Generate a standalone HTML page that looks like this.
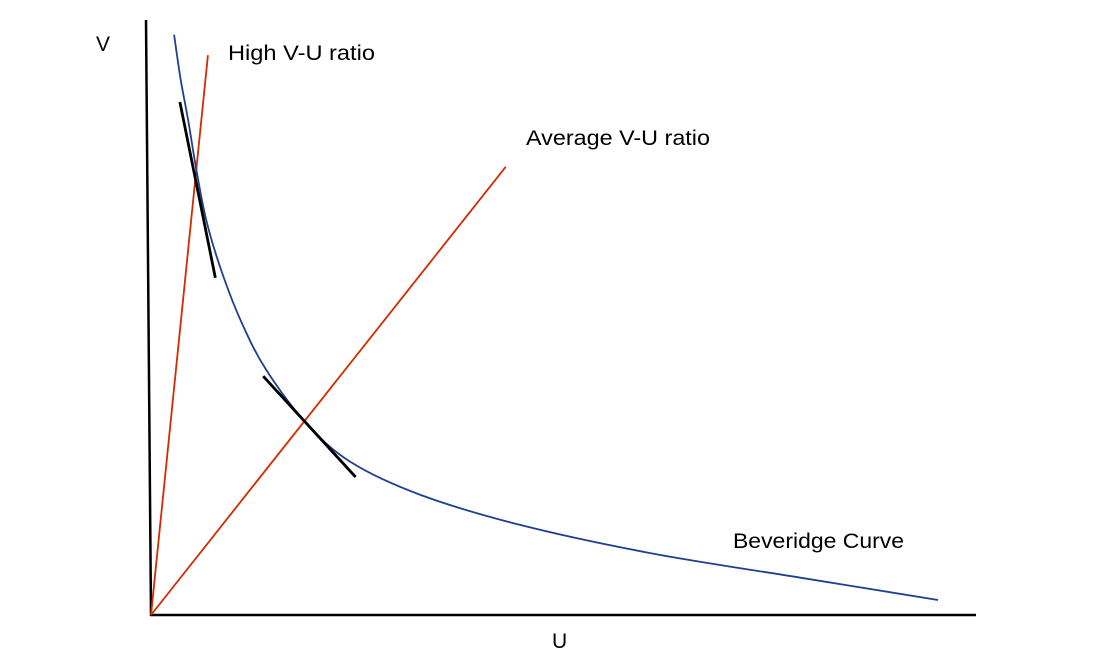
<!DOCTYPE html>
<html><head><meta charset="utf-8"><style>
body{margin:0;background:#fff;}
svg{display:block;}
text{font-family:"Liberation Sans",sans-serif;font-size:21px;fill:#000;}
</style></head><body>
<svg width="1100" height="659" viewBox="0 0 1100 659">
<g id="plot"></g>
</svg>
<script>
// data (U, V) in arbitrary 0-100 units
const curveU = [2.8,3.6,4.5,5.5,6.7,8.5,10.9,13.9,18.8,24.2,32.7,44.8,60.6,78.8,95.4];
const curveV = [96.7,89.2,82.5,74.2,65.8,57.5,49.0,41.0,32,25.5,20,15,10.3,6.2,2.5];
const rayNames = ['high-vu-ratio-line','average-vu-ratio-line'];
const rayEndU = [6.9,43];
const rayEndV = [93.3,74.7];
const tanU1 = [3.5,13.6], tanV1 = [85.5,39.8];
const tanU2 = [7.8,24.8], tanV2 = [56.2,23];

const X0=151,X1=976,Y0=615,Y1=15;
function xs(u){return X0+u*(X1-X0)/100;}
function ys(v){return Y0-v*(Y0-Y1)/100;}
const NS='http://www.w3.org/2000/svg';
const g=document.getElementById('plot');
function mk(tag,attrs){const e=document.createElementNS(NS,tag);for(const k in attrs)e.setAttribute(k,attrs[k]);g.appendChild(e);return e;}

let a=mk('line',{x1:146,y1:20,x2:151,y2:616,stroke:'#000','stroke-width':2.5});


a=mk('line',{x1:150,y1:615,x2:976,y2:615,stroke:'#000','stroke-width':2.5});



for(let i=0;i<rayEndU.length;i++){
  const l=mk('line',{x1:xs(0),y1:ys(0),x2:xs(rayEndU[i]),y2:ys(rayEndV[i]),stroke:'#d42a00','stroke-width':1.8});
  
  
}

const P=curveU.map((u,i)=>[xs(u),ys(curveV[i])]);
let d='M'+P[0][0]+' '+P[0][1];
for(let i=0;i<P.length-1;i++){
  const p0=P[i-1]||P[i],p1=P[i],p2=P[i+1],p3=P[i+2]||P[i+1];
  d+=` C${p1[0]+(p2[0]-p0[0])/6} ${p1[1]+(p2[1]-p0[1])/6} ${p2[0]-(p3[0]-p1[0])/6} ${p2[1]-(p3[1]-p1[1])/6} ${p2[0]} ${p2[1]}`;
}
const c=mk('path',{d:d,fill:'none',stroke:'#1f3f8f','stroke-width':1.8});



for(let i=0;i<tanU1.length;i++){
  const t=mk('line',{x1:xs(tanU1[i]),y1:ys(tanV1[i]),x2:xs(tanU2[i]),y2:ys(tanV2[i]),stroke:'#000','stroke-width':2.8});
  
  
}

const labels=[['V',96,51,'y-axis-title',0],['U',552,648,'x-axis-title',0],['High V-U ratio',228,60,'high-ratio-label',147],['Average V-U ratio',526,145,'average-ratio-label',184],['Beveridge Curve',733,548,'curve-label',171]];
labels.forEach(L=>{
  const t=mk('text',{x:L[1],y:L[2]});
  if(L[4]){t.setAttribute('textLength',L[4]);t.setAttribute('lengthAdjust','spacingAndGlyphs');}
  t.textContent=L[0];
  
  
});
</script>
</body></html>
